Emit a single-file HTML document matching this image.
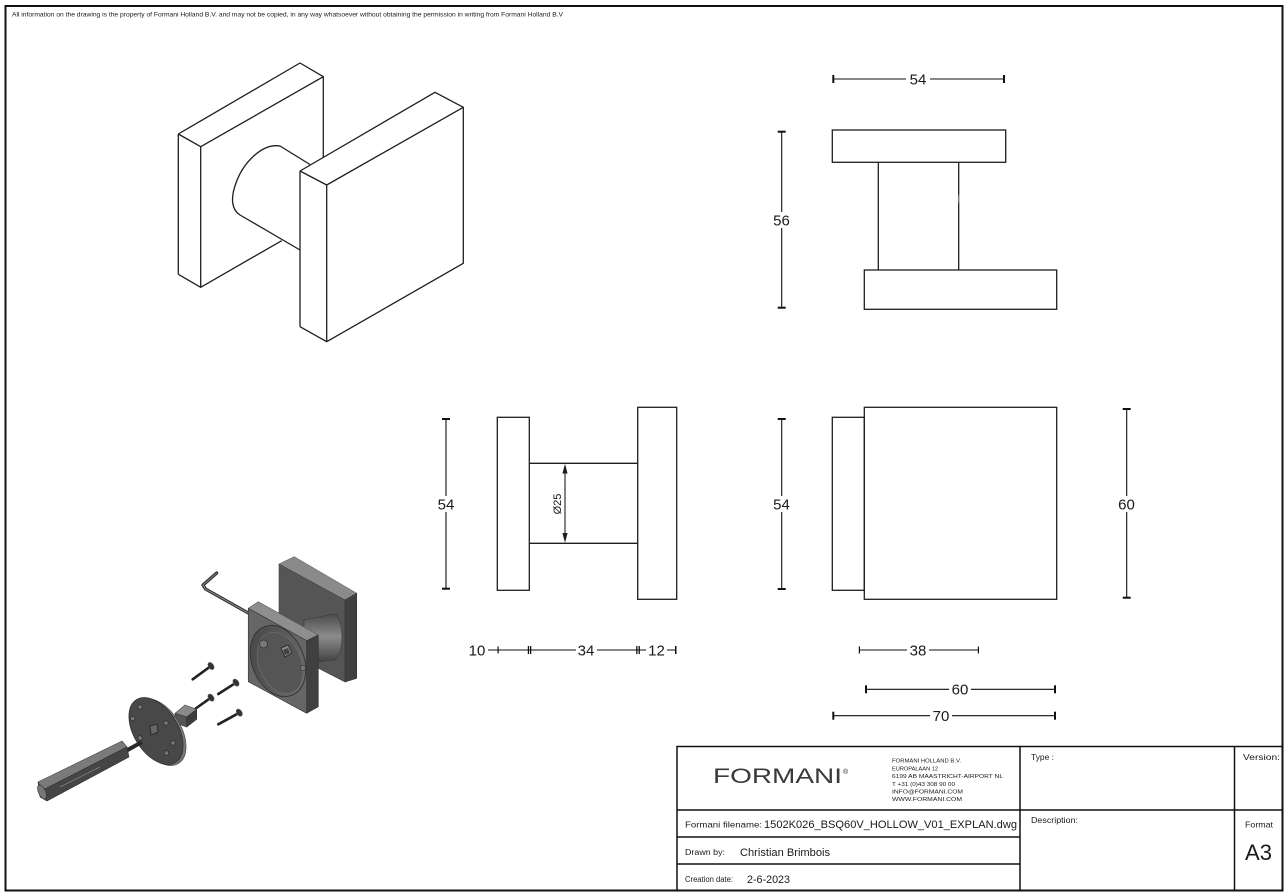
<!DOCTYPE html>
<html><head><meta charset="utf-8"><style>
html,body{margin:0;padding:0;background:#fff;}
svg{display:block;}
text{font-family:"Liberation Sans",sans-serif;fill:#1a1a1a;}
</style></head><body>
<svg width="1287" height="896" viewBox="0 0 1287 896" xmlns="http://www.w3.org/2000/svg">
<defs>
<linearGradient id="cyl" x1="0" y1="0" x2="0" y2="1">
<stop offset="0" stop-color="#4a4a4a"/><stop offset="0.45" stop-color="#8c8c8c"/><stop offset="1" stop-color="#3c3c3c"/>
</linearGradient>
<linearGradient id="rec" x1="0" y1="0" x2="1" y2="1">
<stop offset="0" stop-color="#444"/><stop offset="1" stop-color="#6e6e6e"/>
</linearGradient>
</defs>
<rect width="1287" height="896" fill="#fff"/>
<!-- frame -->
<rect x="5.5" y="6" width="1277" height="884.5" fill="none" stroke="#111" stroke-width="2"/>
<text x="12" y="16.5" font-size="6.3" textLength="551" lengthAdjust="spacingAndGlyphs">All information on the drawing is the property of Formani Holland B.V. and may not be copied, in any way whatsoever without obtaining the permission in writing from Formani Holland B.V</text>

<!-- ISOMETRIC VIEW -->
<g fill="none" stroke="#1e1e1e" stroke-width="1.3" stroke-linejoin="round">
<polyline points="178.3,134 300,63 323.3,76.7 200.7,146.7 178.3,134"/>
<line x1="178.3" y1="134" x2="178.3" y2="274.3"/>
<line x1="200.7" y1="146.7" x2="200.7" y2="287.3"/>
<polyline points="178.3,274.3 200.7,287.3 281.7,240.7"/>
<line x1="323.3" y1="76.7" x2="323.3" y2="157.5"/>
<path d="M310,164.5 L280,146 C262,143 243,163 236,183 C230,199 232,210 240,215 L300,250"/>
<polyline points="300,171 435,92.3 463.3,107.3 326.7,185 300,171"/>
<line x1="300" y1="171" x2="300" y2="326.7"/>
<line x1="326.7" y1="185" x2="326.7" y2="341.7"/>
<polyline points="300,326.7 326.7,341.7 463.3,263.3 463.3,107.3"/>
</g>

<!-- TOP VIEW -->
<g fill="none" stroke="#1e1e1e" stroke-width="1.3">
<rect x="832.3" y="130" width="173.4" height="32.3"/>
<line x1="878.3" y1="162.3" x2="878.3" y2="270"/>
<line x1="958.7" y1="162.3" x2="958.7" y2="270"/>
<rect x="864.3" y="270" width="192.4" height="39.3"/>
</g>
<path d="M959.5,194 q-1.5,5 0,10" fill="none" stroke="#aaa" stroke-width="0.8"/>

<!-- FRONT VIEW -->
<g fill="none" stroke="#1e1e1e" stroke-width="1.3">
<rect x="497.3" y="417.3" width="32" height="173"/>
<line x1="529.3" y1="463.3" x2="637.7" y2="463.3"/>
<line x1="529.3" y1="543.3" x2="637.7" y2="543.3"/>
<rect x="637.7" y="407.3" width="39" height="192"/>
</g>
<line x1="565" y1="470" x2="565" y2="537" stroke="#1e1e1e" stroke-width="1.1"/>
<polygon points="565,463.8 562.4,473.5 567.6,473.5" fill="#1e1e1e"/>
<polygon points="565,542.8 562.4,533 567.6,533" fill="#1e1e1e"/>
<text x="561" y="504" font-size="11" text-anchor="middle" transform="rotate(-90 561 504)">Ø25</text>

<!-- SIDE VIEW -->
<g fill="none" stroke="#1e1e1e" stroke-width="1.3">
<rect x="832.3" y="417.3" width="32" height="173"/>
<rect x="864.3" y="407.3" width="192.4" height="192"/>
</g>

<!-- DIMENSIONS -->
<g stroke="#111" stroke-width="1.1" fill="none">
<line x1="833.3" y1="79" x2="1004" y2="79"/>
<line x1="781.7" y1="131.7" x2="781.7" y2="307.7"/>
<line x1="446" y1="419" x2="446" y2="588.7"/>
<line x1="781.7" y1="419" x2="781.7" y2="589"/>
<line x1="1126.7" y1="409" x2="1126.7" y2="597.7"/>
<line x1="488" y1="650" x2="676" y2="650"/>
<line x1="859.3" y1="650" x2="978.3" y2="650"/>
<line x1="866" y1="689.3" x2="1055" y2="689.3"/>
<line x1="833.3" y1="715.7" x2="1055" y2="715.7"/>
</g>
<g fill="#111">
<rect x="832.3" y="75" width="2" height="8"/><rect x="1003" y="75" width="2" height="8"/>
<rect x="777.7" y="130.7" width="8" height="2"/><rect x="777.7" y="306.7" width="8" height="2"/>
<rect x="442" y="418" width="8" height="2"/><rect x="442" y="587.7" width="8" height="2"/>
<rect x="777.7" y="418" width="8" height="2"/><rect x="777.7" y="588" width="8" height="2"/>
<rect x="1122.7" y="408" width="8" height="2"/><rect x="1122.7" y="596.7" width="8" height="2"/>
<rect x="497.5" y="646.5" width="1.2" height="7"/>
<rect x="527.8" y="646" width="1.3" height="8"/><rect x="530" y="646" width="1.3" height="8"/>
<rect x="636.2" y="646" width="1.3" height="8"/><rect x="638.6" y="646" width="1.3" height="8"/>
<rect x="675" y="646" width="1.5" height="8"/>
<rect x="858.8" y="646.5" width="1.2" height="7"/><rect x="977.8" y="646.5" width="1.2" height="7"/>
<rect x="865" y="685.3" width="2" height="8"/><rect x="1054" y="685.3" width="2" height="8"/>
<rect x="832.3" y="711.7" width="2" height="8"/><rect x="1054" y="711.7" width="2" height="8"/>
</g>
<g fill="#fff">
<rect x="906" y="72" width="24" height="14"/>
<rect x="772" y="212" width="20" height="16"/>
<rect x="436" y="496" width="20" height="16"/>
<rect x="772" y="496" width="20" height="16"/>
<rect x="1116" y="496" width="21" height="16"/>
<rect x="576" y="643" width="21" height="14"/>
<rect x="646" y="643" width="21" height="14"/>
<rect x="907" y="643" width="22" height="14"/>
<rect x="949" y="682" width="22" height="14"/>
<rect x="930" y="708" width="22" height="14"/>
</g>
<g font-size="15" text-anchor="middle">
<text x="918" y="84.5">54</text>
<text x="781.5" y="225.5">56</text>
<text x="446" y="509.5">54</text>
<text x="781.5" y="509.5">54</text>
<text x="1126.5" y="509.5">60</text>
<text x="477" y="655.5">10</text>
<text x="586" y="655.5">34</text>
<text x="656.5" y="655.5">12</text>
<text x="918" y="655.5">38</text>
<text x="960" y="694.5">60</text>
<text x="941" y="721">70</text>
</g>

<!-- EXPLODED VIEW -->
<g stroke-linejoin="round">
<!-- back plate -->
<polygon points="279,564 294.3,556.7 356.7,593.3 345,600" fill="#8a8a8a" stroke="#666" stroke-width="0.6"/>
<polygon points="279,564 345,600 345,682 279,648" fill="#555" stroke="#444" stroke-width="0.6"/>
<polygon points="345,600 356.7,593.3 356.7,678.3 345,682" fill="#404040" stroke="#333" stroke-width="0.6"/>
<!-- neck cylinder -->
<path d="M304,620 L334,614 A8,23 0 0 1 334,660 L304,664 Z" fill="url(#cyl)" stroke="#3a3a3a" stroke-width="0.6"/>
<!-- allen key -->
<polyline points="216.7,573 203,585 205.5,589 250,614" fill="none" stroke="#333" stroke-width="3.2" stroke-linecap="round"/>
<polyline points="216.7,573 203,585 205.5,589 250,614" fill="none" stroke="#9a9a9a" stroke-width="0.8"/>
<!-- front ring -->
<polygon points="248.3,608.3 258.3,601.7 318.3,635 306.7,640.7" fill="#8e8e8e" stroke="#555" stroke-width="0.6"/>
<polygon points="248.3,608.3 306.7,640.7 306.7,713.3 248.3,681.7" fill="#666" stroke="#3a3a3a" stroke-width="0.7"/>
<polygon points="306.7,640.7 318.3,635 318.3,706.7 306.7,713.3" fill="#404040" stroke="#333" stroke-width="0.6"/>
<ellipse cx="278" cy="661" rx="26" ry="37" transform="rotate(-22 278 661)" fill="url(#rec)" stroke="#2e2e2e" stroke-width="0.8"/>
<ellipse cx="280" cy="663" rx="21" ry="32" transform="rotate(-22 280 663)" fill="#555" stroke="#777" stroke-width="0.5"/>
<circle cx="263.5" cy="644" r="4" fill="#777" stroke="#333" stroke-width="0.7"/>
<circle cx="303" cy="668" r="2.6" fill="#777" stroke="#333" stroke-width="0.6"/>
<polygon points="281,648 288,645 292,653 285,657" fill="#888" stroke="#222" stroke-width="0.8"/>
<polygon points="283,650 288,648 290,653 285,655" fill="#444"/>
<!-- screws -->
<g stroke-linecap="round">
<line x1="192.7" y1="679.3" x2="210" y2="666.7" stroke="#222" stroke-width="2.6"/>
<ellipse cx="211" cy="666" rx="2.6" ry="4" transform="rotate(-35 211 666)" fill="#333" stroke="#666" stroke-width="0.5"/>
<line x1="218.3" y1="694" x2="235" y2="683.3" stroke="#222" stroke-width="2.6"/>
<ellipse cx="236" cy="682.6" rx="2.6" ry="4" transform="rotate(-35 236 682.6)" fill="#333" stroke="#666" stroke-width="0.5"/>
<line x1="195" y1="709" x2="210" y2="698.3" stroke="#222" stroke-width="2.6"/>
<ellipse cx="211" cy="697.6" rx="2.6" ry="4" transform="rotate(-35 211 697.6)" fill="#333" stroke="#666" stroke-width="0.5"/>
<line x1="218.3" y1="724.3" x2="238.3" y2="713.3" stroke="#222" stroke-width="2.6"/>
<ellipse cx="239.3" cy="712.6" rx="2.6" ry="4" transform="rotate(-35 239.3 712.6)" fill="#333" stroke="#666" stroke-width="0.5"/>
</g>
<!-- short spindle block -->
<polygon points="175,713.3 185,705 196.7,709.3 186.7,717" fill="#8a8a8a" stroke="#444" stroke-width="0.6"/>
<polygon points="175,713.3 186.7,717 186.7,727 175,723" fill="#555" stroke="#333" stroke-width="0.6"/>
<polygon points="186.7,717 196.7,709.3 196.7,719.3 186.7,727" fill="#3c3c3c" stroke="#333" stroke-width="0.6"/>
<!-- disc -->
<ellipse cx="159" cy="732" rx="22" ry="37" transform="rotate(-32 159 732)" fill="#777" stroke="#444" stroke-width="0.6"/>
<ellipse cx="156" cy="731" rx="22" ry="37" transform="rotate(-32 156 731)" fill="#484848" stroke="#2c2c2c" stroke-width="0.7"/>
<g fill="#777" stroke="#222" stroke-width="0.6">
<circle cx="140" cy="707" r="2.2"/><circle cx="166" cy="723" r="2.2"/><circle cx="173" cy="743" r="2.2"/>
<circle cx="166.5" cy="753" r="2.2"/><circle cx="140" cy="738" r="2.2"/><circle cx="132.7" cy="718.5" r="2.2"/>
</g>
<polygon points="150,726 157,724 158,732 151,735" fill="#666" stroke="#222" stroke-width="0.8"/>
<!-- threaded part -->
<line x1="124" y1="752" x2="142" y2="742" stroke="#2a2a2a" stroke-width="4"/>
<!-- long spindle -->
<polygon points="38,782 122,741 127,747 43,790" fill="#7a7a7a" stroke="#444" stroke-width="0.6"/>
<polygon points="43,790 127,747 129,757 47,801" fill="#454545" stroke="#2e2e2e" stroke-width="0.6"/>
<polygon points="38,782 43,790 47,801 40,797" fill="#5a5a5a" stroke="#333" stroke-width="0.6"/>
<ellipse cx="42" cy="792" rx="3.5" ry="7.5" transform="rotate(-25 42 792)" fill="#777" stroke="#333" stroke-width="0.6"/>
<line x1="60" y1="787" x2="100" y2="767" stroke="#999" stroke-width="0.6"/>
</g>

<!-- TITLE BLOCK -->
<g stroke="#111" stroke-width="1.5" fill="none">
<polyline points="677,890 677,746.5 1282,746.5"/>
<line x1="677" y1="810" x2="1282" y2="810"/>
<line x1="677" y1="837" x2="1020" y2="837"/>
<line x1="677" y1="864" x2="1020" y2="864"/>
<line x1="1020" y1="746.5" x2="1020" y2="890"/>
<line x1="1234.5" y1="746.5" x2="1234.5" y2="890"/>
</g>
<text x="713" y="783" font-size="21" textLength="129" lengthAdjust="spacingAndGlyphs" style="fill:#3a3a3a">FORMANI</text>
<text x="843" y="774" font-size="7">®</text>
<g font-size="5.8">
<text x="892" y="762.7" textLength="69" lengthAdjust="spacingAndGlyphs">FORMANI HOLLAND B.V.</text>
<text x="892" y="770.4" textLength="46" lengthAdjust="spacingAndGlyphs">EUROPALAAN 12</text>
<text x="892" y="778.1" textLength="111" lengthAdjust="spacingAndGlyphs">6199 AB MAASTRICHT-AIRPORT NL</text>
<text x="892" y="785.8" textLength="63" lengthAdjust="spacingAndGlyphs">T +31 (0)43 308 90 00</text>
<text x="892" y="793.5" textLength="71" lengthAdjust="spacingAndGlyphs">INFO@FORMANI.COM</text>
<text x="892" y="801.2" textLength="70" lengthAdjust="spacingAndGlyphs">WWW.FORMANI.COM</text>
</g>
<text x="685" y="827.5" font-size="8.6" textLength="77" lengthAdjust="spacingAndGlyphs">Formani filename:</text>
<text x="764" y="828" font-size="11.3" textLength="253" lengthAdjust="spacingAndGlyphs">1502K026_BSQ60V_HOLLOW_V01_EXPLAN.dwg</text>
<text x="685" y="855" font-size="8.6" textLength="40" lengthAdjust="spacingAndGlyphs">Drawn by:</text>
<text x="740" y="856" font-size="11.3" textLength="90" lengthAdjust="spacingAndGlyphs">Christian Brimbois</text>
<text x="685" y="882" font-size="8.6" textLength="48" lengthAdjust="spacingAndGlyphs">Creation date:</text>
<text x="747" y="883" font-size="11.3" textLength="43" lengthAdjust="spacingAndGlyphs">2-6-2023</text>
<text x="1031" y="760" font-size="8.6" textLength="23" lengthAdjust="spacingAndGlyphs">Type :</text>
<text x="1243" y="760" font-size="8.6" textLength="37" lengthAdjust="spacingAndGlyphs">Version:</text>
<text x="1031" y="823" font-size="8.6" textLength="47" lengthAdjust="spacingAndGlyphs">Description:</text>
<text x="1245" y="827.5" font-size="8.6" textLength="28" lengthAdjust="spacingAndGlyphs">Format</text>
<text x="1245" y="860" font-size="22" textLength="27" lengthAdjust="spacingAndGlyphs">A3</text>
</svg>
</body></html>
